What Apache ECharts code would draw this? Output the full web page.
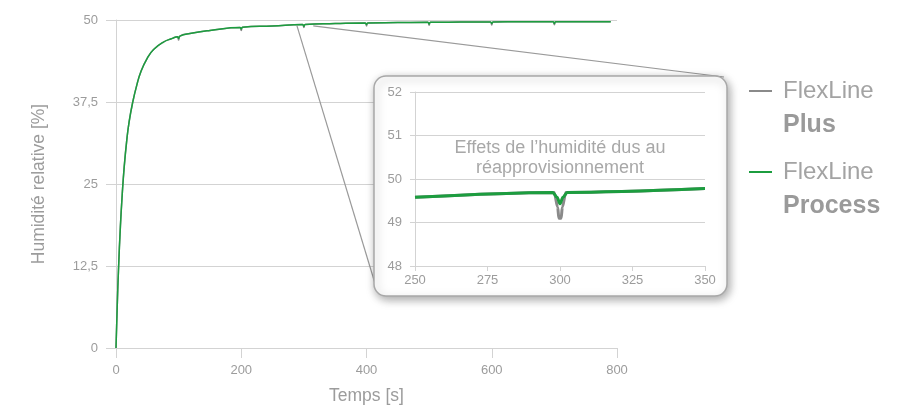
<!DOCTYPE html>
<html lang="fr">
<head>
<meta charset="UTF-8" />
<title>Humidité relative</title>
<script src="https://cdn.jsdelivr.net/npm/echarts@6.0.0/dist/echarts.min.js"></script>
<style>
  * { margin: 0; padding: 0; }
  html, body { width: 100%; height: 100%; background: #fff; }
</style>
</head>
<body>
<div id="main" style="width:915px;height:410px;"></div>
<script>
// main chart: time [s] vs humidity [%]
var mainTime = [0, 2, 4, 7, 10, 13, 17, 21, 27, 33, 40, 50, 60, 75, 90, 98, 100, 102, 118, 150,
  198, 200, 202, 250, 298, 300, 302, 350, 398, 400, 402, 450, 498, 500, 502, 550,
  598, 600, 602, 650, 698, 700, 702, 750, 790];
var processMain = [0, 6.5, 12, 18.5, 23.5, 27.5, 31.5, 34.5, 37.6, 40, 42.2, 44.2, 45.5, 46.6, 47.2, 47.45, 47.2, 47.55, 47.95, 48.4,
  48.85, 48.62, 48.9, 49.1, 49.3, 49.05, 49.3, 49.45, 49.55, 49.3, 49.55, 49.6, 49.65, 49.4, 49.65, 49.68,
  49.7, 49.45, 49.7, 49.72, 49.72, 49.47, 49.73, 49.74, 49.75];
var plusMain = [0, 6.5, 12, 18.5, 23.5, 27.5, 31.5, 34.5, 37.6, 40, 42.2, 44.2, 45.5, 46.6, 47.2, 47.45, 46.95, 47.55, 47.95, 48.4,
  48.85, 48.4, 48.9, 49.1, 49.3, 48.85, 49.3, 49.45, 49.55, 49.1, 49.55, 49.6, 49.65, 49.2, 49.65, 49.68,
  49.7, 49.25, 49.7, 49.72, 49.72, 49.27, 49.73, 49.74, 49.75];

// inset: zoom around the refill at 300 s
var insetTimePlus = [250, 298, 299.2, 299.6, 300.4, 300.8, 302, 350];
var insetPlus = [49.58, 49.69, 49.35, 49.1, 49.1, 49.35, 49.69, 49.78];
var insetTimeProcess = [250, 297.5, 299, 300, 301, 302.5, 350];
var insetProcess = [49.58, 49.69, 49.58, 49.43, 49.58, 49.69, 49.78];

var mainXTicks = [0, 200, 400, 600, 800];
var mainYTicks = [0, 12.5, 25, 37.5, 50];
var insetXTicks = [250, 275, 300, 325, 350];
var insetYTicks = [48, 49, 50, 51, 52];

var GREEN = '#1c9d3f';
var GREY = '#8a8a8a';
var TXT = '#9c9c9c';
var FONT = '"Liberation Sans", Arial, sans-serif';

function zip(xs, ys) {
  return xs.map(function (x, i) { return [x, ys[i]]; });
}
function comma(v) { return String(v).replace('.', ','); }

// inset box (layout)
var box = { x: 374, y: 76, w: 353, h: 220 };

var lineAxisStyle = { lineStyle: { color: '#d3d3d3', width: 1 } };

var option = {
  animation: false,
  textStyle: { fontFamily: FONT },
  grid: [
    { left: 116, right: 298, top: 20, bottom: 62 },
    { left: 415, right: 210, top: 92, bottom: 144 }
  ],
  legend: {
    orient: 'vertical',
    left: 749,
    top: 40,
    padding: 0,
    itemGap: -21,
    itemWidth: 23,
    itemHeight: 2,
    icon: 'rect',
    selectedMode: false,
    data: ['FlexLine Plus', 'FlexLine Process'],
    formatter: function (name) {
      var parts = name.split(' ');
      return parts[0] + '\n{b|' + parts[1] + '}';
    },
    textStyle: {
      fontFamily: FONT,
      fontSize: 24,
      color: '#a3a3a3',
      lineHeight: 34,
      padding: [34, 0, 0, 6],
      rich: {
        b: { fontFamily: FONT, fontSize: 25, fontWeight: 'bold', color: '#9a9a9a', lineHeight: 34 }
      }
    }
  },
  xAxis: [
    {
      gridIndex: 0, type: 'value', min: mainXTicks[0], max: mainXTicks[mainXTicks.length - 1],
      interval: mainXTicks[1] - mainXTicks[0],
      name: 'Temps [s]', nameLocation: 'middle', nameGap: 39,
      nameTextStyle: { color: TXT, fontSize: 17.5, fontFamily: FONT },
      axisLine: lineAxisStyle,
      axisTick: { show: true, length: 10, lineStyle: { color: '#d3d3d3' } },
      axisLabel: { color: TXT, fontSize: 13, margin: 16 },
      splitLine: { show: false }
    },
    {
      gridIndex: 1, type: 'value', min: insetXTicks[0], max: insetXTicks[insetXTicks.length - 1],
      interval: insetXTicks[1] - insetXTicks[0], z: 6,
      axisLine: lineAxisStyle,
      axisTick: { show: true, length: 5, lineStyle: { color: '#d3d3d3' } },
      axisLabel: { color: TXT, fontSize: 13, margin: 8 },
      splitLine: { show: false }
    }
  ],
  yAxis: [
    {
      gridIndex: 0, type: 'value', min: mainYTicks[0], max: mainYTicks[mainYTicks.length - 1],
      interval: mainYTicks[1] - mainYTicks[0],
      name: 'Humidité relative [%]', nameLocation: 'middle', nameGap: 68,
      nameTextStyle: { color: TXT, fontSize: 17.5, fontFamily: FONT },
      axisLine: { show: true, lineStyle: { color: '#d3d3d3' } },
      axisTick: { show: true, length: 10, lineStyle: { color: '#d3d3d3' } },
      axisLabel: { color: TXT, fontSize: 13, margin: 18, formatter: comma },
      splitLine: { show: true, lineStyle: { color: '#d3d3d3' } }
    },
    {
      gridIndex: 1, type: 'value', min: insetYTicks[0], max: insetYTicks[insetYTicks.length - 1],
      interval: 1, z: 6,
      axisLine: { show: true, lineStyle: { color: '#d3d3d3' } },
      axisTick: { show: true, length: 5, lineStyle: { color: '#d3d3d3' } },
      axisLabel: { color: TXT, fontSize: 13, margin: 13 },
      splitLine: { show: true, lineStyle: { color: '#d3d3d3' } }
    }
  ],
  series: [
    {
      name: 'FlexLine Plus', type: 'line', xAxisIndex: 0, yAxisIndex: 0,
      data: zip(mainTime, plusMain), showSymbol: false, smooth: 0.5,
      lineStyle: { color: GREY, width: 1.5 }, itemStyle: { color: GREY }, z: 2
    },
    {
      name: 'FlexLine Process', type: 'line', xAxisIndex: 0, yAxisIndex: 0,
      data: zip(mainTime, processMain), showSymbol: false, smooth: 0.5,
      lineStyle: { color: GREEN, width: 1.5 }, itemStyle: { color: GREEN }, z: 3
    },
    {
      name: 'FlexLine Plus', type: 'line', xAxisIndex: 1, yAxisIndex: 1,
      data: zip(insetTimePlus, insetPlus), showSymbol: false, smooth: 0.3, smoothMonotone: 'x',
      lineStyle: { color: GREY, width: 3 }, itemStyle: { color: GREY }, z: 7
    },
    {
      name: 'FlexLine Process', type: 'line', xAxisIndex: 1, yAxisIndex: 1,
      data: zip(insetTimeProcess, insetProcess), showSymbol: false, smooth: 0.3, smoothMonotone: 'x',
      lineStyle: { color: GREEN, width: 3 }, itemStyle: { color: GREEN }, z: 8
    }
  ]
};

var myChart = echarts.init(document.getElementById('main'), null, { renderer: 'canvas' });
myChart.setOption(option);

// connectors from the main curve to the inset box, plus the box and its caption
var pA = myChart.convertToPixel({ xAxisIndex: 0, yAxisIndex: 0 }, [289, 49.1]);
var pB = myChart.convertToPixel({ xAxisIndex: 0, yAxisIndex: 0 }, [315, 49.1]);
var insetMid = myChart.convertToPixel({ xAxisIndex: 1, yAxisIndex: 1 }, [300, 51]);

myChart.setOption({
  graphic: [
    {
      type: 'line', z: 3, silent: true,
      shape: { x1: pA[0], y1: pA[1], x2: box.x + 3, y2: box.y + box.h - 6 },
      style: { stroke: '#9a9a9a', lineWidth: 1.2 }
    },
    {
      type: 'line', z: 3, silent: true,
      shape: { x1: pB[0], y1: pB[1], x2: box.x + box.w - 3, y2: box.y + 1 },
      style: { stroke: '#9a9a9a', lineWidth: 1.2 }
    },
    {
      type: 'rect', z: 5, silent: true,
      shape: { x: box.x, y: box.y, width: box.w, height: box.h, r: 12 },
      style: {
        fill: '#fff', stroke: '#a8a8a8', lineWidth: 1.5,
        shadowBlur: 10, shadowColor: 'rgba(0,0,0,0.35)', shadowOffsetX: 2, shadowOffsetY: 3
      }
    },
    {
      type: 'text', z: 9, silent: true,
      x: insetMid[0], y: insetMid[1] + 3,
      style: {
        text: 'Effets de l’humidité dus au\nréapprovisionnement',
        fill: '#a8a8a8', font: '18px ' + FONT, align: 'center', verticalAlign: 'top', lineHeight: 20
      }
    }
  ]
});
</script>
</body>
</html>
